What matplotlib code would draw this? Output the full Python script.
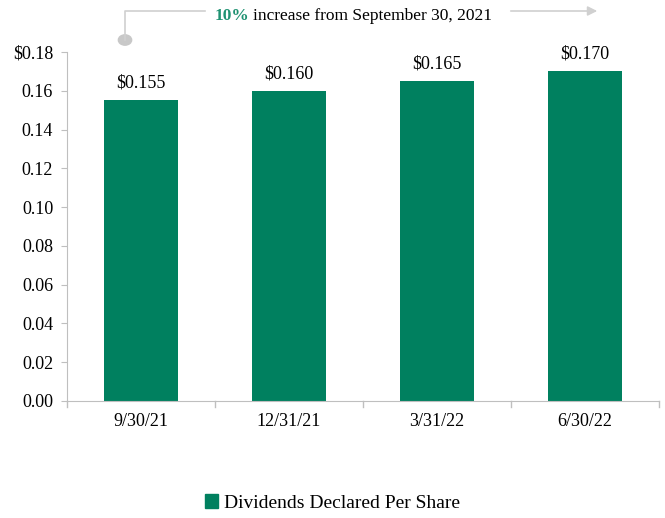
import matplotlib.pyplot as plt
from matplotlib.patches import Patch

plt.rcParams['font.family'] = ['Liberation Serif', 'DejaVu Serif']

dates = ["9/30/21", "12/31/21", "3/31/22", "6/30/22"]
dividends = [0.155, 0.160, 0.165, 0.170]
bar_labels = ["$0.155", "$0.160", "$0.165", "$0.170"]
y_ticks = [0.00, 0.02, 0.04, 0.06, 0.08, 0.10, 0.12, 0.14, 0.16, 0.18]
y_tick_labels = ["0.00", "0.02", "0.04", "0.06", "0.08", "0.10", "0.12", "0.14", "0.16", "$0.18"]

green = "#00805f"
gray = "#bfbfbf"

fig = plt.figure(figsize=(6.65, 5.18), dpi=100)
ax = fig.add_axes([0.1008, 0.2259, 0.8902, 0.6737])

x = list(range(len(dates)))
ax.bar(x, dividends, width=0.5, color=green, label="Dividends Declared Per Share")
for xi, v, lab in zip(x, dividends, bar_labels):
    ax.text(xi, v + 0.0045, lab, ha="center", va="bottom", fontsize=13)

ax.set_xlim(-0.5, len(dates) - 0.5)
ax.set_ylim(0, 0.18)
ax.set_yticks(y_ticks)
ax.set_yticklabels(y_tick_labels, fontsize=13)
ax.set_xticks(x)
ax.set_xticklabels(dates, fontsize=13)
ax.tick_params(axis="x", length=0, pad=9)
ax.tick_params(axis="y", length=4, color=gray, pad=6)
# category boundary ticks
for b in [i - 0.5 for i in range(len(dates) + 1)]:
    ax.plot([b, b], [0, -0.003], color=gray, lw=1, clip_on=False)

for s in ["top", "right"]:
    ax.spines[s].set_visible(False)
ax.spines["left"].set_color(gray)
ax.spines["bottom"].set_color(gray)

# growth annotation
fig.lines.append(plt.Line2D([125 / 665, 125 / 665, 205 / 665], [1 - 40 / 518, 1 - 11 / 518, 1 - 11 / 518],
                            transform=fig.transFigure, color="#d0d0d0", lw=1.2))
fig.patches.append(plt.Circle((125 / 665, 1 - 40 / 518), 0.01, transform=fig.transFigure,
                              color="#c8c8c8"))
ax.annotate("", xy=(600 / 665, 1 - 11 / 518), xytext=(508 / 665, 1 - 11 / 518),
            xycoords="figure fraction", textcoords="figure fraction",
            arrowprops=dict(arrowstyle="-|>", color="#d0d0d0", lw=1.2, mutation_scale=14))
t1 = fig.text(215 / 665, 1 - 16 / 518, "10%", color="#1f9272", fontsize=12.5,
              fontweight="bold", va="center", ha="left")
fig.canvas.draw()
bb = t1.get_window_extent()
fig.text(bb.x1 / fig.bbox.width + 0.005, 1 - 16 / 518, "increase from September 30, 2021",
         fontsize=12.5, va="center", ha="left")

fig.legend(handles=[Patch(color=green, label="Dividends Declared Per Share")],
           loc="center", bbox_to_anchor=(0.5, 1 - 503 / 518), frameon=False,
           fontsize=14, handlelength=0.7, handleheight=0.7, handletextpad=0.3)

fig.savefig("out.png", dpi=100)
